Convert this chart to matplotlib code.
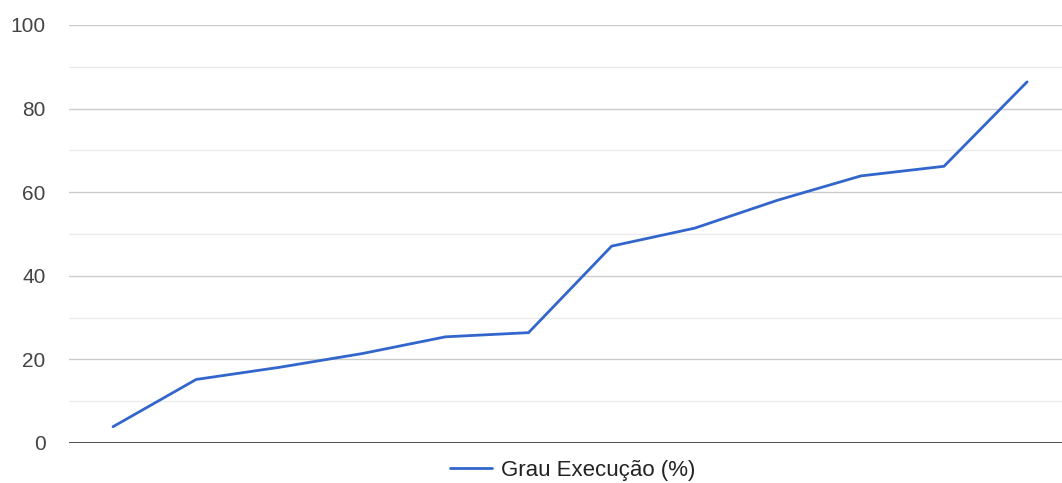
import matplotlib.pyplot as plt
import numpy as np

plt.rcParams['font.family'] = ['Liberation Sans', 'DejaVu Sans']

# categories have no visible labels in the source chart
categories = list(range(1, 13))
grau_execucao = [3.9, 15.2, 18.1, 21.4, 25.4, 26.4, 47.1, 51.4, 58.1, 63.9, 66.2, 86.4]

fig = plt.figure(figsize=(10.62, 4.83), dpi=100)
ax = fig.add_axes([69 / 1062, 1 - 443 / 483, 1 - 69 / 1062, (443 - 25) / 483])

x = np.arange(len(categories))
ax.plot(x, grau_execucao, color='#3366cc', lw=2.0, label='Grau Execução (%)',
        solid_joinstyle='round', solid_capstyle='round', zorder=3)

ax.set_xlim(-0.53, len(categories) - 0.58)
ax.set_ylim(0, 100)
ax.set_yticks(np.arange(0, 101, 20))
ax.set_yticks(np.arange(10, 100, 20), minor=True)
ax.set_xticks([])
ax.grid(axis='y', which='major', color='#cccccc', lw=1.0, zorder=0)
ax.grid(axis='y', which='minor', color='#ebebeb', lw=1.0, zorder=0)
ax.axhline(0, color='#333333', lw=1.2, zorder=2)
ax.tick_params(axis='y', which='both', length=0, pad=17, labelsize=15, labelcolor='#444444')
for s in ax.spines.values():
    s.set_visible(False)

leg = ax.legend(loc='center', bbox_to_anchor=(0.507, -0.066), frameon=False,
                fontsize=16, handlelength=1.9, handletextpad=0.4)
for t in leg.get_texts():
    t.set_color('#222222')

fig.savefig('out.png', dpi=100)
